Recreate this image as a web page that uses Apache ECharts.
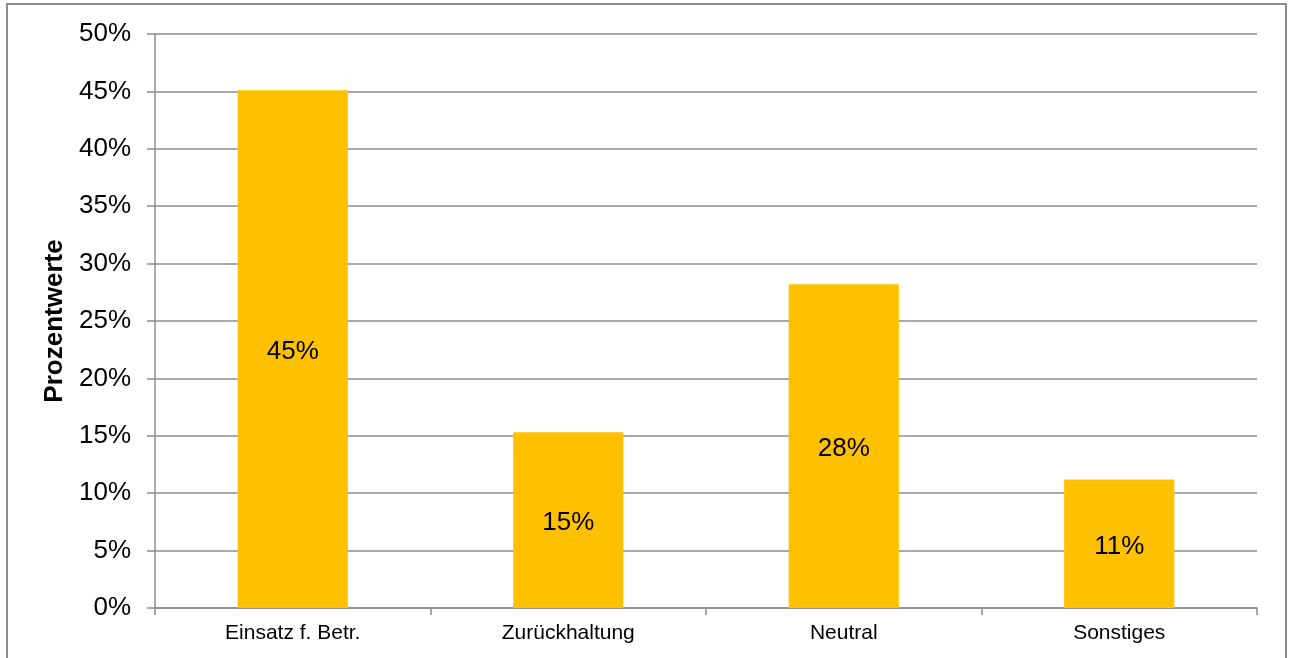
<!DOCTYPE html>
<html>
<head>
<meta charset="utf-8">
<script src="https://cdn.jsdelivr.net/npm/echarts@6/dist/echarts.min.js"></script>
<style>
html, body { margin: 0; padding: 0; background: #fff; }
#chart { width: 1290px; height: 658px; }
</style>
</head>
<body>
<div id="chart"></div>
<script>
const categories = ["Einsatz f. Betr.", "Zurückhaltung", "Neutral", "Sonstiges"]
const values = [45.1, 15.3, 28.2, 11.2]
const yTicks = [0, 5, 10, 15, 20, 25, 30, 35, 40, 45, 50]

const chart = echarts.init(document.getElementById("chart"))
const font = "Liberation Sans, Arial, sans-serif"

chart.setOption({
	animation: false,
	graphic: [{
		type: "rect",
		shape: { x: 7, y: 4, width: 1279, height: 660 },
		style: { fill: "none", stroke: "#8c8c8c", lineWidth: 2 },
		silent: true,
	}],
	grid: { left: 155, right: 33, top: 34, bottom: 50 },
	xAxis: {
		type: "category",
		data: categories,
		axisLine: { lineStyle: { color: "#8c8c8c", width: 1.5 } },
		axisTick: { show: true, length: 7, alignWithLabel: false, lineStyle: { color: "#8c8c8c", width: 1.5 } },
		axisLabel: { color: "#000", fontFamily: font, fontSize: 21, margin: 15 },
	},
	yAxis: {
		type: "value",
		min: yTicks[0],
		max: yTicks[yTicks.length - 1],
		interval: 5,
		name: "Prozentwerte",
		nameLocation: "middle",
		nameGap: 87,
		nameTextStyle: { color: "#000", fontFamily: font, fontSize: 26, fontWeight: "bold" },
		axisLine: { show: true, lineStyle: { color: "#8c8c8c", width: 1.5 } },
		axisTick: { show: true, length: 8, lineStyle: { color: "#8c8c8c", width: 1.5 } },
		axisLabel: { color: "#000", fontFamily: font, fontSize: 26, margin: 24, formatter: v => v + "%" },
		splitLine: { show: true, lineStyle: { color: "#8c8c8c", width: 1.5 } },
	},
	series: [{
		type: "bar",
		data: values,
		barWidth: "40%",
		itemStyle: { color: "#FFC000" },
		label: {
			show: true,
			position: "inside",
			offset: [0, 3],
			color: "#000",
			fontFamily: font,
			fontSize: 26,
			formatter: p => Math.round(p.value) + "%",
		},
	}],
})
</script>
</body>
</html>
